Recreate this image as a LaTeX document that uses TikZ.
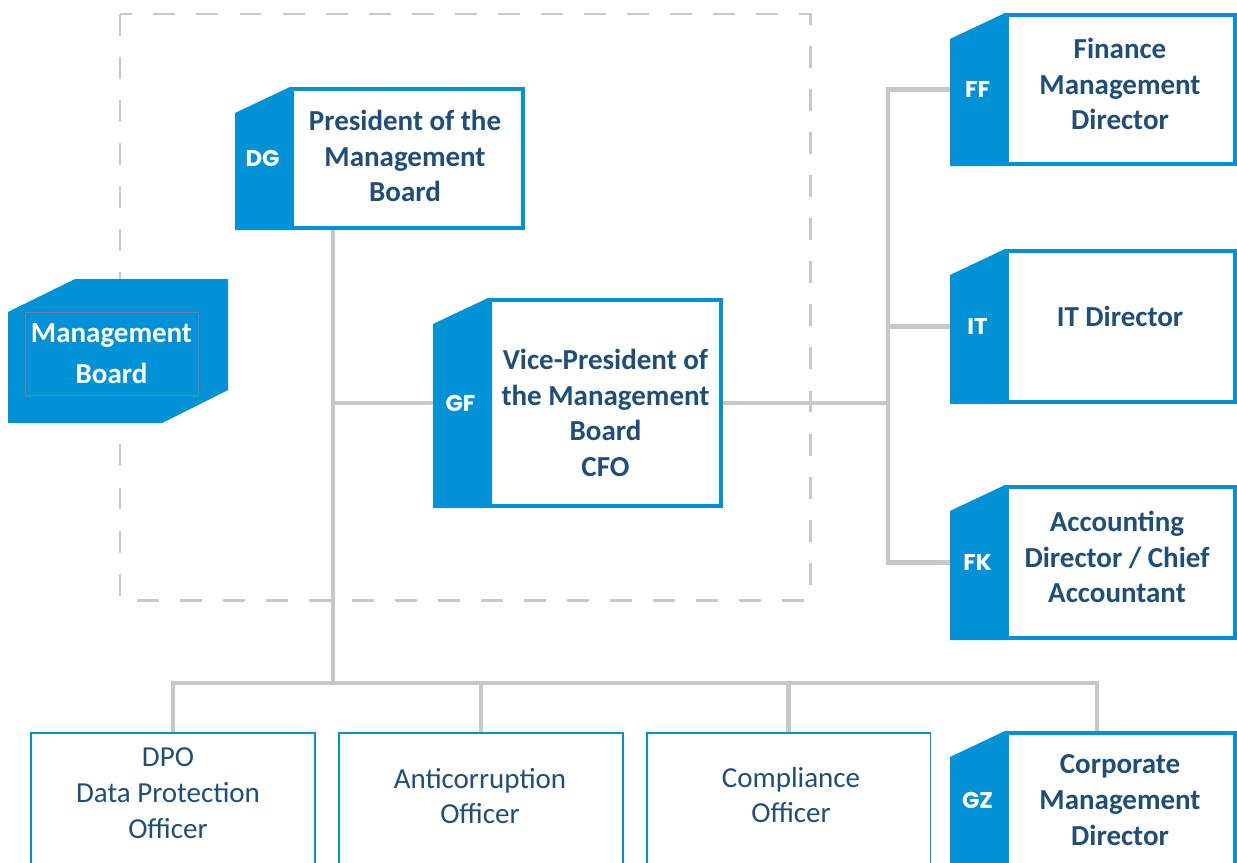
\documentclass[tikz,border=0pt]{standalone}
\usepackage{fontspec}
\setmainfont{Carlito}
\newfontfamily\tagfont{Poppins}
\usepackage{tikz}
\usetikzlibrary{calc}
\usetikzlibrary{positioning}
\definecolor{tagblue}{HTML}{0091D6}
\definecolor{titleblue}{HTML}{1F4E79}
\definecolor{linkgrey}{HTML}{C8C8C8}
\definecolor{frameline}{HTML}{7C7CA4}
\newcommand\linkwidth{2.8pt}
\newcommand\boxwidth{2.3pt}
\newcommand\thinboxwidth{1.1pt}
\tikzstyle{link}      = [line width=\linkwidth, color=linkgrey]
\tikzstyle{group}     = [line width=1.7pt, color=linkgrey, dash pattern=on 12.5pt off 12pt]
\tikzstyle{headbox}   = [draw=tagblue, line width=\boxwidth, fill=white]
\tikzstyle{staffbox}  = [draw=tagblue, line width=\thinboxwidth, fill=white,
                         minimum width=5.68cm, minimum height=2.68cm]
\tikzstyle{headtext}  = [align=center, text=titleblue, font=\fontsize{16.5}{20.4}\selectfont\bfseries]
\tikzstyle{stafftext} = [align=center, text=titleblue, font=\fontsize{16.5}{20.4}\selectfont]
\tikzstyle{tagtext}   = [text=white, font=\tagfont\bfseries\fontsize{13}{15}\selectfont]
% blue side tab with its code, left of a box
\newcommand\tagtab[2]{%
  \fill[tagblue] (#1.north west) -- (#1.south west) -- ([xshift=-1.1cm]#1.south west)
    -- ([xshift=-1.1cm,yshift=-0.52cm]#1.north west) -- cycle;
  \node[tagtext] (#1-tag) at ([xshift=-0.55cm]#1.west) {#2};
  \coordinate (#1-in) at ([xshift=-1.1cm]#1.west);
}

\begin{document}
\begin{tikzpicture}[x=0.02cm, y=-0.02cm]
  \useasboundingbox (0, 0) rectangle (1237, 862);
  \clip (0, 0) rectangle (1237, 862);
  \fill[white] (0, 0) rectangle (1237, 862);
  % board group
  \draw[group] (120, 14) rectangle (810, 600);
  \fill[tagblue] (8, 312) -- (75, 279) -- (228, 279) -- (228, 390) -- (162, 423) -- (8, 423) -- cycle;
  \draw (111.5, 353.5) node[draw=frameline, line width=.4pt, minimum width=3.34cm, minimum height=1.66cm,
    align=center, text=white, font=\fontsize{16.5}{23}\selectfont\bfseries] (mb) {Management\\Board};
  % board members
  \draw (407.5, 158.5) node[headbox, minimum width=4.62cm, minimum height=2.78cm] (dg) {};
  \draw (405, 156) node[headtext] (dg-text) {President of the\\Management\\Board};
  \draw (605.5, 403) node[headbox, minimum width=4.62cm, minimum height=4.12cm] (gf) {};
  \draw (605.5, 413) node[headtext] (gf-text) {Vice-President of\\the Management\\Board\\CFO};
  \tagtab{dg}{DG}
  \tagtab{gf}{GF}
  % directors
  \draw (1121, 89.5) node[headbox, minimum width=4.56cm, minimum height=2.98cm] (ff) {};
  \draw (1120, 84) node[headtext] (ff-text) {Finance\\Management\\Director};
  \draw (1121, 326.5) node[headbox, minimum width=4.56cm, minimum height=3.02cm] (it) {};
  \draw (1120, 316) node[headtext] (it-text) {IT Director};
  \draw (1121, 562.5) node[headbox, minimum width=4.56cm, minimum height=3.02cm] (fk) {};
  \draw (1117, 557) node[headtext] (fk-text) {Accounting\\Director / Chief\\Accountant};
  \draw (1121, 800) node[headbox, minimum width=4.56cm, minimum height=2.68cm] (gz) {};
  \draw (1120, 800) node[headtext] (gz-text) {Corporate\\Management\\Director};
  \tagtab{ff}{FF}
  \tagtab{it}{IT}
  \tagtab{fk}{FK}
  \tagtab{gz}{GZ}
  % officers
  \draw (173, 800) node[staffbox] (dpo) {};
  \draw (168, 793) node[stafftext] (dpo-text) {DPO\\Data Protection\\Officer};
  \draw (481, 800) node[staffbox] (anti) {};
  \draw (480, 796) node[stafftext] (anti-text) {Anticorruption\\Officer};
  \draw (788.5, 800) node[staffbox] (compl) {};
  \draw (791, 795) node[stafftext] (compl-text) {Compliance\\Officer};
  % lines
  \coordinate (trunk) at (333, 683);
  \coordinate (spine) at (888, 0);
  \coordinate (gzdrop) at (1097, 731);
  \draw[link] (trunk |- dg.south) -- (trunk);
  \draw[link] (trunk |- gf-in) -- (gf-in);
  \draw[link] (gf.east) -- (gf.east -| spine);
  \draw[link] (ff-in) -- (ff-in -| spine) -- (fk-in -| spine) -- (fk-in);
  \draw[link] (it-in -| spine) -- (it-in);
  \draw[link] (dpo.north) |- (trunk) -| (gzdrop);
  \draw[link] (anti.north) -- (anti.north |- trunk);
  \draw[link] (compl.north) -- (compl.north |- trunk);
\end{tikzpicture}
\end{document}
